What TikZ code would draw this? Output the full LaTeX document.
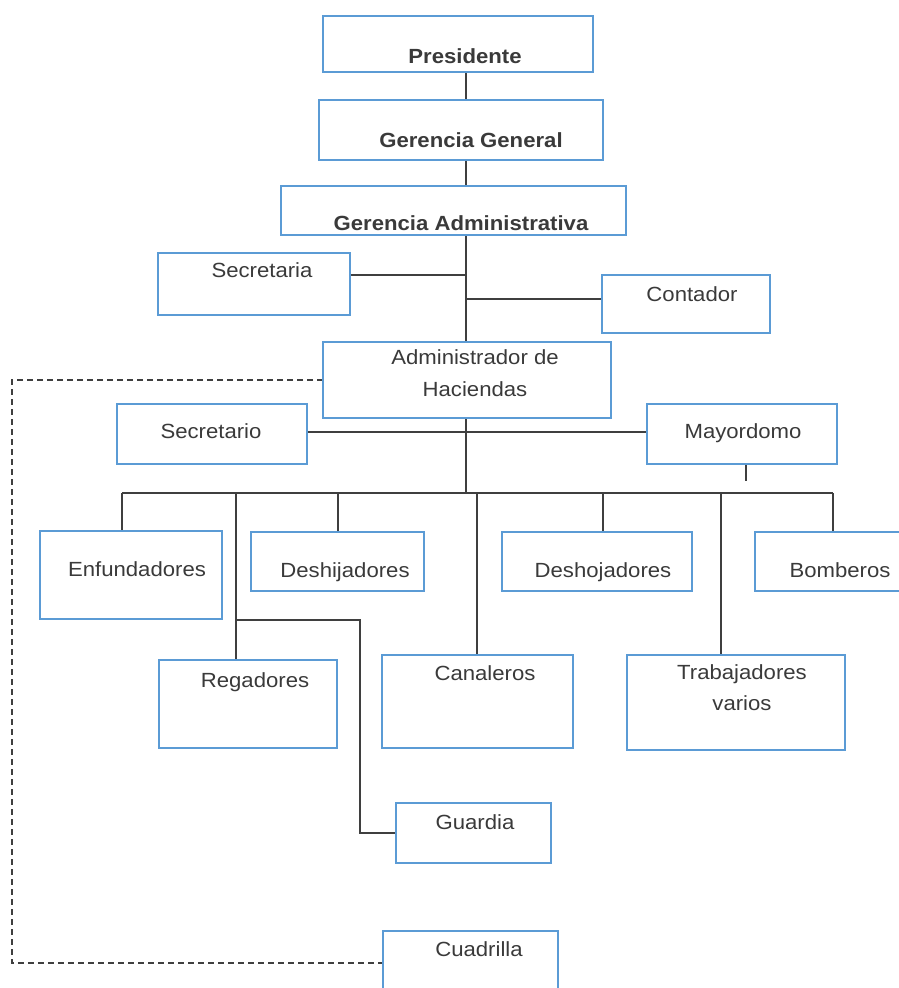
\documentclass[tikz,border=0pt]{standalone}
\usepackage{fontspec}
\setmainfont{Liberation Sans}[FakeStretch=1.08]
\usepackage{tikz}
\usetikzlibrary{positioning,fit,backgrounds}
\definecolor{boxblue}{HTML}{5B9BD5}
\definecolor{wiregray}{HTML}{3F3F3F}
\definecolor{ink}{HTML}{3A3A3A}
\tikzset{
    orgbox/.style={draw=boxblue,fill=white,line width=2.4pt,inner sep=0pt,outer sep=0pt},
    boxtext/.style={text=ink,font=\fontsize{20.5}{31}\selectfont,anchor=base,
      inner sep=0pt,align=center},
    boldtext/.style={boxtext,font=\fontsize{20.5}{31}\selectfont\bfseries},
    wire/.style={draw=wiregray,line width=1.2pt},
    dashwire/.style={draw=wiregray,line width=1.4pt,dash pattern=on 6pt off 4pt}
}
\begin{document}
\begin{tikzpicture}[x=1pt,y=-1pt]
  \useasboundingbox (0,0) rectangle (899,988);
  % boxes: name/left/top/right/bottom
  \foreach \n/\xa/\ya/\xb/\yb in {pres/323/16/593/72, gg/319/100/603/160, ga/281/186/626/235,
      secA/158/253/350/315, cont/602/275/770/333, adm/323/342/611/418,
      secO/117/404/307/464, mayor/647/404/837/464,
      enf/40/531/222/619, desi/251/532/424/591, deso/502/532/692/591, bomb/755/532/905/591,
      reg/159/660/337/748, can/382/655/573/748, trab/627/655/845/750,
      guar/396/803/551/863, cuad/383/931/558/995}
    \node[orgbox,fit={(\xa,\ya)(\xb,\yb)}] (\n) {};

  \node[boldtext] (pres-t) at (465,63) {Presidente};
  \node[boldtext] (gg-t) at (471,147) {Gerencia General};
  \node[boldtext] (ga-t) at (461,230) {Gerencia Administrativa};
  \node[boxtext] (secA-t) at (262,277) {Secretaria};
  \node[boxtext] (cont-t) at (692,301) {Contador};
  \node[boxtext] (adm-t) at (475,396) {Administrador de\\[1pt]Haciendas};
  \node[boxtext] (secO-t) at (211,438) {Secretario};
  \node[boxtext] (mayor-t) at (743,438) {Mayordomo};
  \node[boxtext] (enf-t) at (137,576) {Enfundadores};
  \node[boxtext] (desi-t) at (345,577) {Deshijadores};
  \node[boxtext] (deso-t) at (603,577) {Deshojadores};
  \node[boxtext] (bomb-t) at (840,577) {Bomberos};
  \node[boxtext] (reg-t) at (255,687) {Regadores};
  \node[boxtext] (can-t) at (485,680) {Canaleros};
  \node[boxtext] (trab-t) at (742,710) {Trabajadores\\varios};
  \node[boxtext] (guar-t) at (475,829) {Guardia};
  \node[boxtext] (cuad-t) at (479,956) {Cuadrilla};

  \begin{scope}[on background layer]
    \coordinate (tk) at (466,0);
    \coordinate (sa) at (466,275);
    \coordinate (ct) at (466,299);
    \coordinate (sm) at (466,432);
    \coordinate (bus) at (466,493);
    \coordinate (busL) at (122,493);
    \coordinate (busR) at (833,493);
    \coordinate (mt) at (746,481);
    \coordinate (gj) at (236,620);
    \coordinate (gk) at (360,620);
    \coordinate (dl) at (12,0);
    \draw[wire] (pres.south -| tk) -- (gg.north -| tk);
    \draw[wire] (gg.south -| tk) -- (ga.north -| tk);
    \draw[wire] (ga.south -| tk) -- (adm.north -| tk);
    \draw[wire] (secA.east |- sa) -- (sa);
    \draw[wire] (ct) -- (cont.west |- ct);
    \draw[wire] (adm.south -| tk) -- (bus);
    \draw[wire] (secO.east |- sm) -- (mayor.west |- sm);
    \draw[wire] (mayor.south -| mt) -- (mt);
    \draw[wire] (busL) -- (busR);
    \foreach \n/\x in {enf/122,reg/236,desi/338,can/477,deso/603,trab/721,bomb/833} {
      \coordinate (d\n) at (\x,493);
      \draw[wire] (d\n) -- (\n.north -| d\n);
    }
    \draw[wire] (gj) -- (gk) |- (guar.west);
    \draw[dashwire] (adm.west) -- (adm.west -| dl) |- (cuad.west);
  \end{scope}
\end{tikzpicture}
\end{document}
